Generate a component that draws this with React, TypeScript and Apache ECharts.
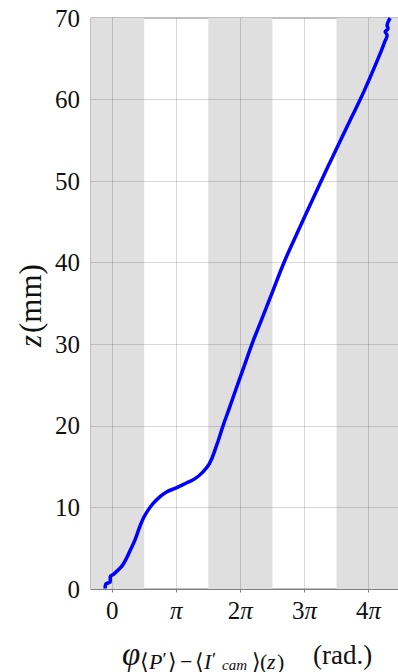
import React, { useEffect, useRef } from "react";
import * as echarts from "echarts";

// Phase (in multiples of π) against axial position z (mm)
const phaseOverPi = [
  -0.11, -0.1, -0.06, -0.03, -0.03, 0.02, 0.09, 0.16, 0.22, 0.285, 0.355, 0.42,
  0.485, 0.563, 0.64, 0.744, 0.848, 1.0, 1.158, 1.287, 1.41, 1.52, 1.623,
  1.726, 1.827, 1.946, 2.068, 2.18, 2.33, 2.48, 2.68, 2.85, 3.025, 3.26, 3.465,
  3.715, 3.87, 3.985, 4.095, 4.205, 4.254, 4.29, 4.26, 4.305, 4.29, 4.32, 4.337,
];
const zMm = [
  0.05, 0.6, 0.75, 0.9, 1.5, 1.8, 2.3, 2.9, 3.7, 4.8, 6.0, 7.4, 8.65, 9.7,
  10.5, 11.3, 11.9, 12.4, 13.0, 13.5, 14.3, 15.4, 17.45, 19.9, 22.15, 24.8,
  27.5, 30.0, 33.0, 36.0, 40.0, 43.0, 46.0, 50.0, 53.4, 57.5, 60.0, 62.0, 64.0,
  66.1, 67.1, 67.9, 68.3, 68.7, 69.1, 69.75, 70.0,
];

const xTickValues = [0, 1, 2, 3, 4];
const xTickLabels = ["0", "π", "2π", "3π", "4π"];
const yGridValues = [10, 20, 30, 40, 50, 60];
// shaded half-period bands, in multiples of π
const bandRanges = [
  [-0.5, 0.5],
  [1.5, 2.5],
  [3.5, 4.5],
];

const SERIF = "'Liberation Serif', 'DejaVu Serif', serif";
const GRID_LINE = "rgba(0,0,0,0.15)";
const SPINE = "#808080";
const INK = "#111";

// one piece of an axis-title formula
const piece = (
  text: string,
  x: number,
  y: number,
  size: number,
  italic = false,
  rotation = 0
) => ({
  type: "text",
  x,
  y,
  rotation,
  silent: true,
  style: {
    text,
    fontFamily: SERIF,
    fontSize: size,
    fontStyle: italic ? "italic" : "normal",
    fill: INK,
    align: "left",
    verticalAlign: "middle",
  },
});

export default function App() {
  const ref = useRef<HTMLDivElement>(null);

  useEffect(() => {
    if (!ref.current) return;
    const chart = echarts.init(ref.current, null, { renderer: "svg" });

    const labelFor = (v: number) => {
      const i = xTickValues.indexOf(Math.round(v));
      const s = i >= 0 ? xTickLabels[i] : "";
      if (s.endsWith("π")) {
        const n = s.slice(0, -1);
        return (n ? `{n|${n}}` : "") + "{p|π}";
      }
      return `{n|${s}}`;
    };

    const subY = 661;
    const S = 22;
    chart.setOption({
      animation: false,
      grid: {
        left: 91,
        top: 18,
        right: -2,
        bottom: 83,
        show: true,
        borderColor: SPINE,
        borderWidth: 1,
        backgroundColor: "transparent",
      },
      xAxis: {
        type: "value",
        min: -0.33,
        max: 4.46,
        axisLine: { show: true, lineStyle: { color: SPINE, width: 1 } },
        axisTick: {
          show: true,
          customValues: xTickValues,
          length: 3.5,
          lineStyle: { color: SPINE },
        },
        axisLabel: {
          customValues: xTickValues,
          margin: 9,
          formatter: (v: number) => labelFor(v),
          rich: {
            n: { fontFamily: SERIF, fontSize: 25, color: INK },
            p: { fontFamily: SERIF, fontSize: 25, fontStyle: "italic", color: INK },
          },
        },
        splitLine: { show: false },
      },
      yAxis: {
        type: "value",
        min: 0,
        max: 70,
        interval: 10,
        axisLine: { show: true, lineStyle: { color: SPINE, width: 1 } },
        axisTick: { show: true, length: 3.5, lineStyle: { color: SPINE } },
        axisLabel: {
          margin: 11,
          fontFamily: SERIF,
          fontSize: 25,
          color: INK,
        },
        splitLine: { show: false },
      },
      series: [
        {
          type: "line",
          data: [],
          silent: true,
          z: 1,
          markArea: {
            silent: true,
            itemStyle: { color: "#dfdfdf" },
            data: bandRanges.map(([a, b]) => [{ xAxis: a }, { xAxis: b }]),
          },
        },
        {
          type: "line",
          data: [],
          silent: true,
          z: 2,
          markLine: {
            silent: true,
            symbol: ["none", "none"],
            label: { show: false },
            lineStyle: { color: GRID_LINE, width: 1, type: "solid" },
            data: [
              ...xTickValues.map((v) => ({ xAxis: v })),
              ...yGridValues.map((v) => ({ yAxis: v })),
            ],
          },
        },
        {
          type: "line",
          z: 5,
          data: phaseOverPi.map((x, i) => [x, zMm[i]]),
          showSymbol: false,
          smooth: 0.4,
          lineStyle: { color: "#0000ff", width: 3.5 },
          clip: true,
        },
      ],
      graphic: [
        // vertical axis title, reading bottom to top
        piece("z", 30, 347, 31, true, Math.PI / 2),
        piece("(mm)", 30, 333, 31, false, Math.PI / 2),
        // horizontal axis title
        piece("φ", 122, 654, 33, true),
        piece("⟨", 140, subY, S),
        piece("P", 149, subY, S, true),
        piece("′", 162.5, subY - 2, 19),
        piece("⟩", 168, subY, S),
        piece("−", 180, subY, S),
        piece("⟨", 195, subY, S),
        piece("I", 204, subY, S, true),
        piece("′", 212, subY - 2, 19),
        piece("cam", 222, 665, 15, true),
        piece("⟩", 252, subY, S),
        piece("(", 260, subY, S),
        piece("z", 267, subY, S, true),
        piece(")", 277, subY, S),
        piece("(rad.)", 313, 655, 27),
      ],
    });

    return () => chart.dispose();
  }, []);

  return (
    <div
      ref={ref}
      style={{ position: "fixed", left: 0, top: 0, width: 398, height: 672, background: "#fff" }}
    />
  );
}
